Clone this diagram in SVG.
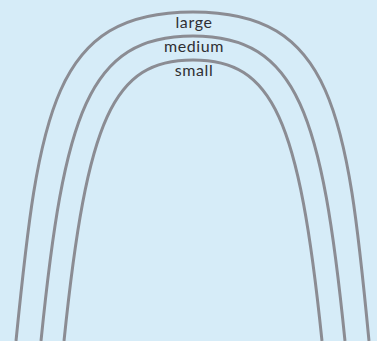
<svg xmlns="http://www.w3.org/2000/svg" width="377" height="341" viewBox="0 0 377 341">
<style>
.arc{fill:none;stroke:#8b8c93;stroke-width:3;stroke-linecap:butt}
.lbl{font-family:Lato,"Open Sans",sans-serif;font-size:16px;letter-spacing:0.6px;fill:#2f2f33;text-anchor:middle}
</style>
<rect width="377" height="341" fill="#d6ecf8"/>
<g id="connectors">
<g id="large-arc">
<path class="arc" d="M16,341 C39,111 53,12 193,12 C333,12 347,111 369,341"/>
</g>
<g id="medium-arc">
<path class="arc" d="M41,341 C64,114 88,36 193,36 C298,36 322,114 345,341"/>
</g>
<g id="small-arc">
<path class="arc" d="M64,341 C87,118 113,60 193,60 C273,60 299,118 322,341"/>
</g>
</g>
<g id="label-large"><text class="lbl" x="194" y="28">large</text></g>
<g id="label-medium"><text class="lbl" x="194" y="52">medium</text></g>
<g id="label-small"><text class="lbl" x="194" y="76">small</text></g>
</svg>
